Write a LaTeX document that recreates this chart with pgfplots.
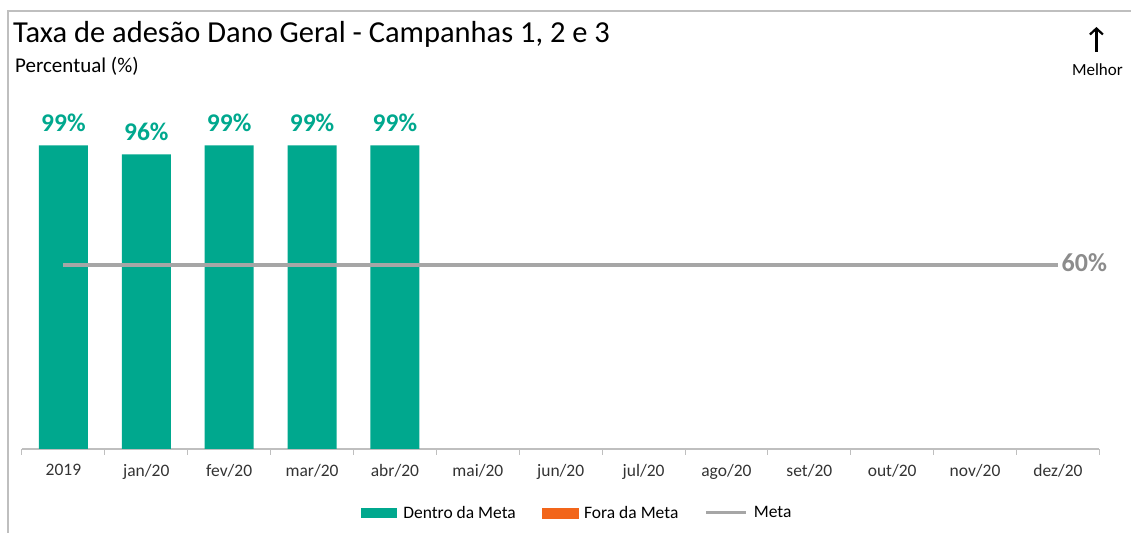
\documentclass[border=0pt]{standalone}
\usepackage{pgfplots}
\pgfplotsset{compat=1.18}
\usepackage{fontspec}
\setmainfont{Carlito}
\usetikzlibrary{arrows.meta}
\definecolor{teal1}{RGB}{0,168,142}
\definecolor{orange1}{RGB}{242,101,26}
\definecolor{meta}{RGB}{166,166,166}
\definecolor{metatxt}{RGB}{140,140,140}
\definecolor{axisgray}{RGB}{191,191,191}
\begin{document}
\begin{tikzpicture}
\path (0pt,0pt) rectangle (1132pt,533pt);
\draw[axisgray, line width=1.2pt] (8pt,0pt) -- (8pt,522pt) -- (1132pt,522pt);
\node[anchor=base west, font=\fontsize{30.5}{33}\selectfont, inner sep=0] at (13pt,490pt) {Taxa de adesão Dano Geral - Campanhas 1, 2 e 3};
\node[anchor=base west, font=\fontsize{21}{23}\selectfont, inner sep=0] at (15pt,460pt) {Percentual (\%)};
\node[anchor=base, font=\fontsize{17}{19}\selectfont, inner sep=0] at (1098pt,457pt) {Melhor};
\draw[line width=2.2pt, -{Straight Barb[length=6pt,width=13pt,line width=2.2pt]}] (1097pt,481pt) -- (1097pt,506pt);
\begin{axis}[
  at={(22pt,84pt)}, anchor=south west,
  scale only axis, width=1078pt, height=398.7pt,
  xmin=-0.5, xmax=12.5, ymin=0, ymax=130,
  axis x line*=bottom, axis y line=none,
  x axis line style={axisgray, line width=1.5pt, -},
  xtick={0,...,12},
  xticklabels={2019,jan/20,fev/20,mar/20,abr/20,mai/20,jun/20,jul/20,ago/20,set/20,out/20,nov/20,dez/20},
  major tick length=0pt,
  minor xtick={-0.5,0.5,...,12.5},
  minor tick length=6pt,
  tick align=outside,
  minor tick style={axisgray, line width=1pt},
  xticklabel style={font=\fontsize{17.5}{19}\selectfont, text=black!80, yshift=-12pt},
  /pgf/number format/assume math mode=true,
  legend style={at={(axis description cs:0.5155,-0.1605)}, anchor=center, draw=none, fill=none,
    font=\fontsize{17.5}{19}\selectfont, legend columns=3,
    /tikz/every odd column/.append style={column sep=4pt},
    /tikz/every even column/.append style={column sep=24pt}},
  legend cell align=left,
  clip=false,
]
\addplot[ybar, bar width=49pt, fill=teal1, draw=none,
  nodes near coords={\pgfmathprintnumber{\pgfplotspointmeta}\%},
  every node near coord/.append style={font=\bfseries\fontsize{25.5}{27}\selectfont, text=teal1, yshift=10pt},
  area legend, legend image code/.code={\fill[teal1] (0pt,-5pt) rectangle (36pt,5pt);}]
  coordinates {(0,99) (1,96) (2,99) (3,99) (4,99)};
\addlegendentry{Dentro da Meta}
\addlegendimage{area legend, legend image code/.code={\fill[orange1] (0pt,-5pt) rectangle (36pt,5pt);}}
\addlegendentry{Fora da Meta}
\addplot[meta, line width=3.5pt, legend image code/.code={\draw[meta, line width=3.5pt] (0pt,0pt) -- (40pt,0pt);}]
  coordinates {(0,60) (1,60) (2,60) (3,60) (4,60) (5,60) (6,60) (7,60) (8,60) (9,60) (10,60) (11,60) (12,60)}
  node[pos=1, anchor=west, font=\bfseries\fontsize{26}{28}\selectfont, text=metatxt, inner sep=2pt, yshift=2pt] {60\%};
\addlegendentry{Meta}
\end{axis}
\end{tikzpicture}
\end{document}
